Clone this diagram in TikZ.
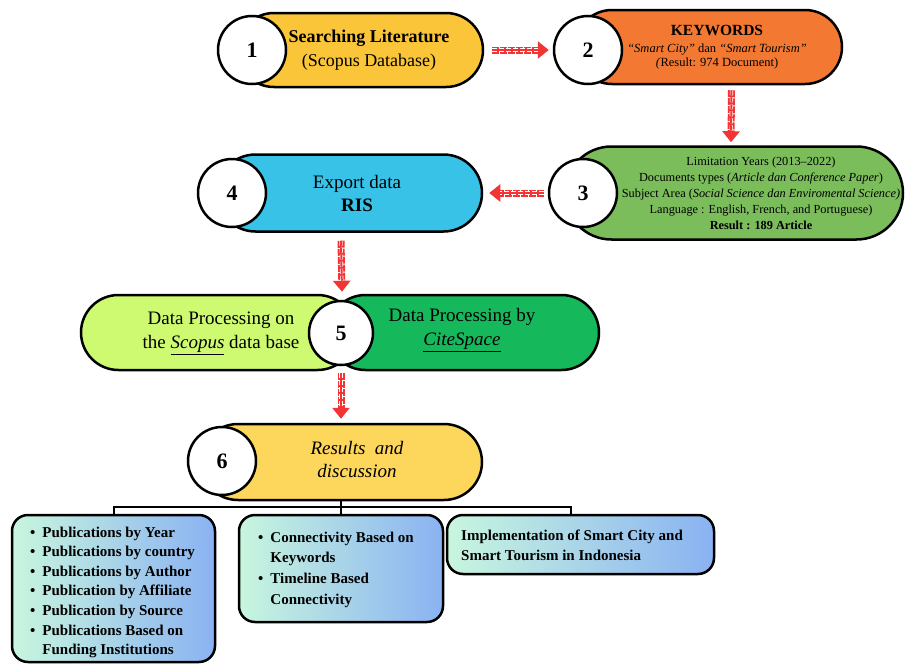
\documentclass[tikz,border=0pt]{standalone}
\usepackage{fontspec}
\setmainfont{Liberation Serif}
\usepackage{tikz}
\usetikzlibrary{shapes.misc, arrows.meta}

\definecolor{searchyellow}{RGB}{251,197,58}
\definecolor{keyorange}{RGB}{243,121,50}
\definecolor{limitgreen}{RGB}{122,189,90}
\definecolor{exportblue}{RGB}{56,194,232}
\definecolor{scopuslime}{RGB}{205,250,112}
\definecolor{citegreen}{RGB}{22,184,92}
\definecolor{resultyellow}{RGB}{253,214,92}
\definecolor{flowred}{RGB}{242,52,52}
\definecolor{mint}{RGB}{200,246,222}
\definecolor{sky}{RGB}{138,178,242}

\begin{document}
\begin{tikzpicture}[x=1pt, y=-1pt,
    pill/.style={rounded rectangle, draw=black, line width=2.5pt, inner sep=0pt},
    num/.style={circle, draw=black, line width=2.5pt, fill=white, minimum size=68pt, inner sep=0pt, font=\fontsize{22}{22}\selectfont\bfseries},
    flow/.style={draw=flowred, line width=7pt, dash pattern=on 7pt off 1pt, -{Triangle[length=11pt, width=17pt]},
        postaction={draw=white, line width=0.6pt, double=flowred, double distance=2pt, arrows=-, dash pattern=on 5pt off 2pt, shorten >=11pt}},
    outcome/.style={draw=black, line width=2.5pt, rounded corners=16pt, left color=mint, right color=sky, inner sep=0pt},
    tree/.style={draw=black, line width=2pt}]
\useasboundingbox (0,0) rectangle (906,664);

% step 1
\node[pill, fill=searchyellow, minimum width=246pt, minimum height=74pt] (p1) at (360,50) {};
\node[align=center, font=\fontsize{18}{24}\selectfont] (t1) at (369,50) {\textbf{Searching Literature}\\(Scopus Database)};
\node[num] (c1) at (252,50) {1};

% step 2
\node[pill, fill=keyorange, minimum width=267pt, minimum height=74pt] (p2) at (708.5,47) {};
\node[align=center, font=\fontsize{12.5}{14}\selectfont] (t2) at (717,47) {{\fontsize{15.5}{15.5}\selectfont\textbf{KEYWORDS}}\\[3pt]\textit{“Smart City”} dan \textit{“Smart Tourism”}\\\textit{(}Result: 974 Document)};
\node[num] (c2) at (588,50) {2};

% step 3
\node[pill, fill=limitgreen, minimum width=338pt, minimum height=93pt] (p3) at (734,193) {};
\node[align=center, font=\fontsize{12.3}{16}\selectfont] (t3) at (761,193) {Limitation Years (2013--2022)\\Documents types (\textit{Article dan Conference Paper})\\Subject Area (\textit{Social Science dan Enviromental Science)}\\Language : English, French, and Portuguese)\\\textbf{Result : 189 Article}};
\node[num] (c3) at (583,193) {3};

% step 4
\node[pill, fill=exportblue, minimum width=265pt, minimum height=77pt] (p4) at (349.5,193) {};
\node[align=center, font=\fontsize{19}{23}\selectfont] (t4) at (357,193) {Export data\\\textbf{RIS}};
\node[num] (c4) at (232,193) {4};

% step 5
\node[pill, fill=scopuslime, minimum width=274pt, minimum height=75pt] (p5a) at (218,332.5) {};
\node[pill, fill=citegreen, minimum width=271pt, minimum height=75pt] (p5b) at (463.5,332.5) {};
\node[align=center, font=\fontsize{19}{24}\selectfont] (t5a) at (221,333) {Data Processing on\\the \underline{\textit{Scopus}} data base};
\node[align=center, font=\fontsize{19}{24}\selectfont] (t5b) at (462,330) {Data Processing by\\\underline{\textit{CiteSpace}}};
\node[num, minimum size=64pt] (c5) at (341,333) {5};

% step 6
\node[pill, fill=resultyellow, minimum width=282pt, minimum height=76pt] (p6) at (341,462) {};
\node[align=center, font=\fontsize{19}{23}\selectfont\itshape] (t6) at (357,460) {Results\ \ and\\discussion};
\node[num] (c6) at (222,461) {6};

% arrows
\draw[flow] ([xshift=8pt]p1.east) -- ([xshift=-4pt]c2.west);
\draw[flow] ([xshift=23pt, yshift=-5pt]p2.south) -- ([xshift=-3pt, yshift=3pt]p3.north);
\draw[flow] ([xshift=-4pt]c3.west) -- ([xshift=6pt]p4.east);
\draw[flow] ([xshift=-8.5pt, yshift=-8pt]p4.south) -- ([xshift=1pt, yshift=8pt]c5.north);
\draw[flow] ([yshift=-7pt]c5.south) -- ([yshift=4pt]p6.north);

% outcomes
\node[outcome, minimum width=203pt, minimum height=147pt] (oA) at (113.5,588.5) {};
\node[outcome, minimum width=204pt, minimum height=107pt] (oB) at (341,568.5) {};
\node[outcome, minimum width=267pt, minimum height=59pt] (oC) at (580.5,544.5) {};

\coordinate (hub) at (341,507);
\draw[tree] (p6.south) -- (hub);
\draw[tree] (oA.north) |- (hub) -| ([xshift=-10pt]oC.north);
\draw[tree] (hub) -- (oB.north);

\node[anchor=west, inner sep=0pt, font=\fontsize{15}{19.6}\selectfont\bfseries] (tA) at (30,592) {\begin{tabular}{@{}l@{\hspace{7pt}}l@{}}
\textbullet & Publications by Year\\
\textbullet & Publications by country\\
\textbullet & Publications by Author\\
\textbullet & Publication by Affiliate\\
\textbullet & Publication by Source\\
\textbullet & Publications Based on\\
 & Funding Institutions
\end{tabular}};
\node[anchor=west, inner sep=0pt, font=\fontsize{15}{20.7}\selectfont\bfseries] (tB) at (258,569) {\begin{tabular}{@{}l@{\hspace{7pt}}l@{}}
\textbullet & Connectivity Based on\\
 & Keywords\\
\textbullet & Timeline Based\\
 & Connectivity
\end{tabular}};
\node[anchor=west, align=left, inner sep=0pt, font=\fontsize{15}{20}\selectfont\bfseries] (tC) at (461,545) {Implementation of Smart City and\\Smart Tourism in Indonesia};

\end{tikzpicture}
\end{document}
